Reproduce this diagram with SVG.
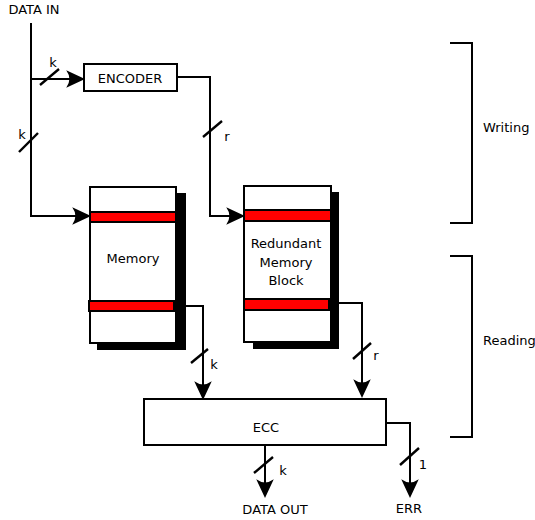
<svg xmlns="http://www.w3.org/2000/svg" width="535" height="520" viewBox="0 0 535 520">
  <style>
    text { font-family: "DejaVu Sans", "Liberation Sans", sans-serif; font-size: 13px; fill: #000; }
    .mid { text-anchor: middle; dominant-baseline: central; }
    .wire { fill: none; stroke: #000; stroke-width: 2; }
    .arrow { marker-end: url(#head); }
    .tick { stroke: #000; stroke-width: 2.4; }
    .box { fill: #fff; stroke: #000; stroke-width: 2; }
    .shadow { fill: #000; }
    .band { fill: #f00; stroke: #000; stroke-width: 2; }
  </style>
  <defs>
    <marker id="head" markerUnits="userSpaceOnUse" markerWidth="24" markerHeight="20" viewBox="-13 -8 19 16" refX="0" refY="0" orient="auto">
      <path d="M4,0 L-11,-7 Q-6,0 -11,7 Z" fill="#000"/>
    </marker>
  </defs>

  <rect width="535" height="520" fill="#fff"/>

  <!-- phase brackets -->
  <g id="writing">
    <path class="wire" d="M450,43 H472 V223 H450"/>
    <text x="483" y="127" dominant-baseline="central">Writing</text>
  </g>
  <g id="reading">
    <path class="wire" d="M450,256 H472 V437 H450"/>
    <text x="483" y="340" dominant-baseline="central">Reading</text>
  </g>

  <g id="data-in">
    <text x="34" y="9" class="mid">DATA IN</text>
  </g>

  <g id="encoder">
    <rect class="box" x="84" y="64" width="93" height="27"/>
    <text x="130" y="78" class="mid">ENCODER</text>
  </g>

  <g id="memory">
    <rect class="shadow" x="97" y="193" width="89" height="157"/>
    <rect class="box" x="90" y="187" width="86" height="156"/>
    <rect class="band" x="90" y="212" width="86" height="10"/>
    <rect class="band" x="89" y="301" width="85" height="10"/>
    <text x="133" y="258" class="mid">Memory</text>
  </g>

  <g id="redundant">
    <rect class="shadow" x="253" y="192" width="86" height="157"/>
    <rect class="box" x="244" y="186" width="87" height="156"/>
    <rect class="band" x="244" y="210" width="87" height="11"/>
    <rect class="band" x="244" y="299" width="85" height="11"/>
    <text x="286" y="243" class="mid">Redundant</text>
    <text x="286" y="262" class="mid">Memory</text>
    <text x="286" y="280" class="mid">Block</text>
  </g>

  <g id="ecc">
    <rect class="box" x="144" y="399" width="242" height="46"/>
    <text x="266" y="427" class="mid">ECC</text>
  </g>

  <g id="outputs">
    <text x="275" y="509" class="mid">DATA OUT</text>
    <text x="409" y="508" class="mid">ERR</text>
  </g>

  <g id="connectors">
    <!-- data in to memory and encoder -->
    <path class="wire arrow" d="M31,23 V216 H86"/>
    <path class="wire arrow" d="M31,79 H80"/>
    <!-- encoder to redundant block -->
    <path class="wire arrow" d="M177,77 H210 V216 H240"/>
    <!-- memories to ECC -->
    <path class="wire arrow" d="M176,306 H203 V395"/>
    <path class="wire arrow" d="M331,303 H362 V393"/>
    <!-- ECC outputs -->
    <path class="wire arrow" d="M265,445 V493"/>
    <path class="wire arrow" d="M386,423 H410 V493"/>

    <!-- bus width ticks -->
    <line class="tick" x1="40" y1="85" x2="59" y2="69"/>
    <line class="tick" x1="19" y1="152" x2="38" y2="133"/>
    <line class="tick" x1="203" y1="137" x2="222" y2="121"/>
    <line class="tick" x1="191" y1="363" x2="208" y2="349"/>
    <line class="tick" x1="353" y1="359" x2="371" y2="343"/>
    <line class="tick" x1="254" y1="473" x2="273" y2="457"/>
    <line class="tick" x1="400" y1="465" x2="419" y2="448"/>

    <text x="53" y="62" class="mid">k</text>
    <text x="22" y="134" class="mid">k</text>
    <text x="227" y="136" class="mid">r</text>
    <text x="214" y="364" class="mid">k</text>
    <text x="376" y="355" class="mid">r</text>
    <text x="283" y="470" class="mid">k</text>
    <text x="423" y="464" class="mid">1</text>
  </g>
</svg>
